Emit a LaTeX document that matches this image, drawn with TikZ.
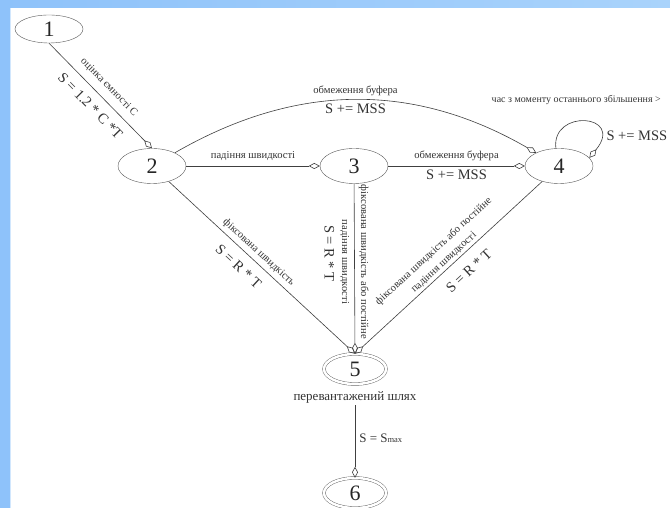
\documentclass[tikz,border=0pt]{standalone}
\usepackage{fontspec}
\setmainfont{Liberation Serif}
\usetikzlibrary{shapes.geometric,arrows.meta}

\begin{document}
\begin{tikzpicture}[x=1pt,y=1pt,
		state/.style={draw=black!65,ellipse,minimum width=68pt,minimum height=35pt,inner sep=0pt,text=black!85,font=\fontsize{22}{24}\selectfont},
		final/.style={state,double,double distance=2.5pt,minimum width=62pt,minimum height=30pt},
		edge/.style={draw=black!75,line width=0.6pt,-{Diamond[open,length=11pt,width=6pt]}},
		small/.style={font=\fontsize{10.6}{12}\selectfont,text=black!80,inner sep=2pt},
		big/.style={font=\fontsize{14.5}{16}\selectfont,text=black!80,inner sep=2pt},
		note/.style={font=\fontsize{13}{15}\selectfont,text=black!80,inner sep=2pt}]
					\definecolor{framesky}{HTML}{8EC2FA}
					\definecolor{framelight}{HTML}{A9D3FB}
					\useasboundingbox (0,0) rectangle (670,508);
					\fill[framesky] (0,0) rectangle (670,508);
					\shade[left color=framesky,right color=framelight] (0,500) rectangle (670,508);
					\fill[white] (9.5,0) rectangle (670,500);
					\draw[white!60!framesky] (10,0) -- (10,500);
					\node[state,minimum height=28pt] (n1) at (49,479) {1};
					\node[state] (n2) at (152,342) {2};
					\node[state] (n3) at (354,342) {3};
					\node[state] (n4) at (559,342) {4};
					\node[final] (n5) at (355,139) {5};
					\node[note] (l5) at (355,111) {перевантажений шлях};
					\node[final] (n6) at (355,15) {6};
					\draw[edge] (n1.south) -- (n2.north)
						node[small,sloped,above=5pt,pos=0.5] {оцінка ємності C}
						node[big,sloped,below=7pt,pos=0.5] {S = 1.2 * C *T};
					\draw[edge] (n2) to[bend left=30]
						node[small,above=2pt,pos=0.5] {обмеження буфера}
						node[big,below=2pt,pos=0.5] {S += MSS} (n4);
					\draw[edge] (n2) -- (n3)
						node[small,above=3pt,pos=0.5] {падіння швидкості};
					\draw[edge] (n3) -- (n4)
						node[small,above=3pt,pos=0.5] {обмеження буфера}
						node[big,below=2pt,pos=0.5] {S += MSS};
					\draw[edge] (n4.100) .. controls +(-5,40) and +(36,44) .. (n4.15)
						node[small,above=15pt,pos=0.5,xshift=-8pt,font=\fontsize{10}{12}\selectfont] {час з моменту останнього збільшення >}
						node[big,right=5pt,pos=0.8] {S += MSS};
					\draw[edge] (n2) -- (n5.north)
						node[small,sloped,above=2pt,pos=0.45] {фіксована швидкість}
						node[big,sloped,below=8pt,pos=0.43] {S = R * T};
					\draw[edge] (n3) -- (n5.north)
						node[small,rotate=-90,align=center,pos=0.46,font=\fontsize{10.6}{19}\selectfont] {фіксована швидкість або постійне\\падіння швидкості}
						node[big,xshift=-25pt,rotate=-90,pos=0.41] {S = R * T};
					\draw[edge] (n4) -- (n5.north)
						node[small,sloped,above=0pt,align=center,pos=0.5,font=\fontsize{10.6}{15}\selectfont] {фіксована швидкість або постійне\\падіння швидкості}
						node[big,sloped,below=9pt,pos=0.45] {S = R * T};
					\draw[edge] (l5) -- (n6)
						node[note,right=2pt,pos=0.45] {S = S{\fontsize{8.5}{9}\selectfont max}};
				\end{tikzpicture}
\end{document}
